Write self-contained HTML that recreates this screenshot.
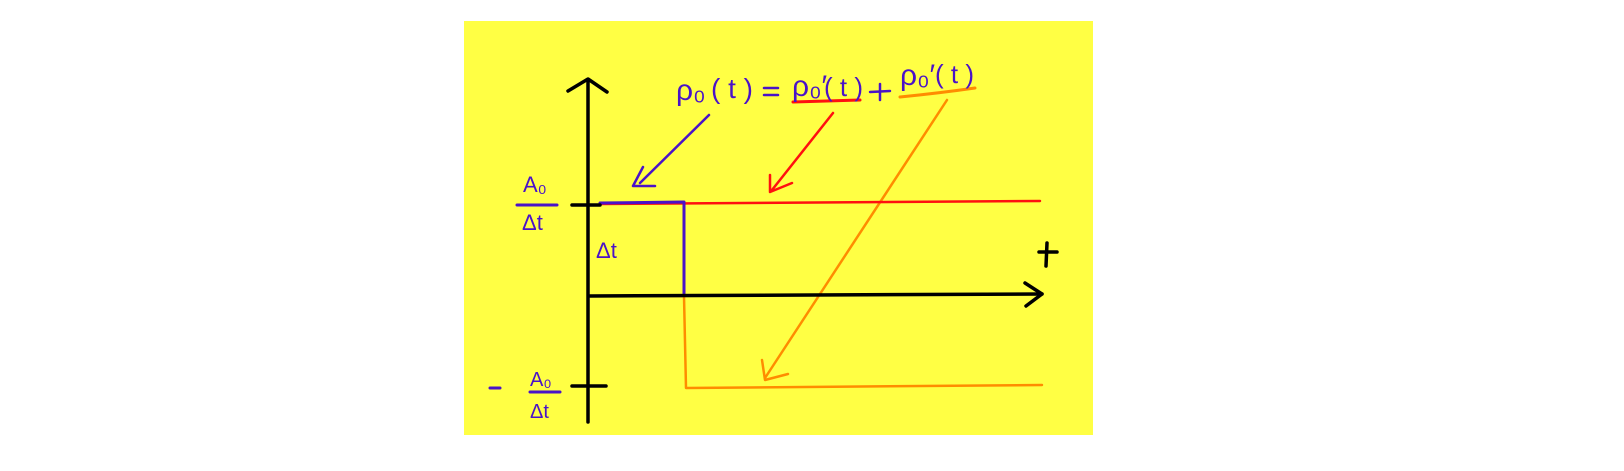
<!DOCTYPE html>
<html><head><meta charset="utf-8"><style>
body{margin:0;background:#fff;width:1624px;height:471px;overflow:hidden}
svg{display:block}
text{font-family:"Liberation Sans",sans-serif;fill:#4a12c8}
</style></head><body>
<svg width="1624" height="471" viewBox="0 0 1624 471">
<rect x="464" y="21" width="629" height="414" fill="#ffff44"/>
<g stroke-linecap="round" stroke-linejoin="round" fill="none">
<path d="M592 296 L684 296 L686 388 L1042 385" stroke="#ff8c00" stroke-width="2.5"/>
<path d="M947 100 L765 378 M762 360 L765 380 L788 374" stroke="#ff8c00" stroke-width="2.5"/>
<path d="M900 97 Q940 93 975 88" stroke="#ff8c00" stroke-width="3"/>
<path d="M600 204 L1040 201" stroke="#ff1010" stroke-width="2.5"/>
<path d="M833 113 L772 190 M770 175 L770 192 L792 183" stroke="#ff1010" stroke-width="2.5"/>
<path d="M793 102 L860 100" stroke="#ff1010" stroke-width="3"/>
<path d="M600 203 L684 202 L684 294" stroke="#4a12c8" stroke-width="3"/>
<path d="M709 115 L640 183 M643 167 L633 186 L655 186" stroke="#4a12c8" stroke-width="2.5"/>
<path d="M588 80 L588 422" stroke="#000" stroke-width="3.5"/>
<path d="M568 91 L588 79 L607 92" stroke="#000" stroke-width="3.5"/>
<path d="M590 296 L1042 294" stroke="#000" stroke-width="3.5"/>
<path d="M1025 283 L1042 294 L1026 306" stroke="#000" stroke-width="3.5"/>
<path d="M572 205 L600 205" stroke="#000" stroke-width="3.5"/>
<path d="M572 386 L606 386" stroke="#000" stroke-width="3.5"/>
<path d="M1039 252 L1057 252 M1047 243 L1046 266" stroke="#000" stroke-width="3.5"/>
<path d="M517 205 L557 205" stroke="#4a12c8" stroke-width="3"/>
<path d="M530 392 L560 392" stroke="#4a12c8" stroke-width="3"/>
<path d="M490 388 L500 388" stroke="#4a12c8" stroke-width="3"/>
<path d="M764 88 L778 88 M764 95 L778 95" stroke="#4a12c8" stroke-width="2.5"/>
<path d="M870 92 L890 91 M880 84 L880 100" stroke="#4a12c8" stroke-width="2.5"/>
</g>
<text x="523" y="192" font-size="22">A₀</text>
<text x="522" y="230" font-size="22">Δt</text>
<text x="530" y="386" font-size="20">A₀</text>
<text x="530" y="418" font-size="20">Δt</text>
<text x="596" y="258" font-size="22">Δt</text>
<text x="676" y="100" font-size="30">ρ₀</text>
<text x="711" y="98" font-size="28">( t )</text>
<text x="792" y="96" font-size="30">ρ₀′</text>
<text x="824" y="96" font-size="26">( t )</text>
<text x="900" y="85" font-size="30">ρ₀′</text>
<text x="935" y="83" font-size="26">( t )</text>
</svg>
</body></html>
